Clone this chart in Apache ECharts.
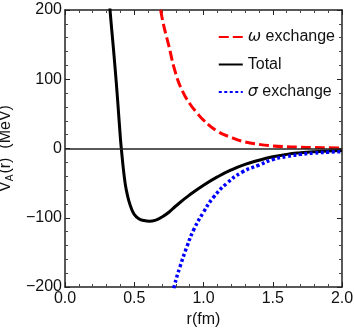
<!DOCTYPE html>
<html>
<head>
<meta charset="utf-8">
<script src="https://cdn.jsdelivr.net/npm/echarts@6/dist/echarts.min.js"></script>
<style>
  html, body { margin: 0; padding: 0; background: #fff; }
  #chart { width: 354px; height: 336px; }
</style>
</head>
<body>
<div id="chart"></div>
<script>
// values
var rOmega = [0.66, 0.70, 0.75, 0.80, 0.85, 0.90, 0.95, 1.00, 1.10, 1.20, 1.30, 1.40, 1.50, 1.60, 1.70, 1.80, 1.90, 2.00]
var vOmega = [240, 190, 148, 108, 82, 65, 52, 41, 25, 16, 9.5, 6, 3.8, 2.6, 1.9, 1.3, 1.0, 0.7]

var rTotal = [0.30, 0.325, 0.34, 0.36, 0.38, 0.40, 0.41, 0.42, 0.43, 0.44, 0.46, 0.48, 0.50, 0.53, 0.57, 0.61, 0.66, 0.70, 0.75, 0.80, 0.90, 1.00, 1.10, 1.20, 1.30, 1.40, 1.50, 1.60, 1.70, 1.80, 1.90, 2.00]
var vTotal = [262, 200, 166, 120, 70, 15, -7, -27, -44, -57, -75, -87, -95, -101, -104, -105, -103, -99, -92, -83, -67, -53, -41, -31, -23, -17, -12, -8.5, -6.2, -4.6, -3.6, -2.8]

var rSigma = [0.76, 0.79, 0.83, 0.88, 0.93, 1.00, 1.07, 1.17, 1.28, 1.40, 1.50, 1.60, 1.70, 1.80, 1.90, 2.00]
var vSigma = [-225, -198, -171, -142, -117, -92, -71, -50, -34, -24, -16, -11.5, -8.5, -6.5, -5.3, -4.5]

function pairs(xs, ys) {
  return xs.map(function (x, i) { return [x, ys[i]] })
}

var font = 'Liberation Sans, Arial, sans-serif'
var frame = { show: true, onZero: false, lineStyle: { color: '#222', width: 1.5 } }
var ticks = { inside: true, length: 5, lineStyle: { color: '#222' } }
var minor = { show: true, splitNumber: 5, length: 3, lineStyle: { color: '#444' } }

var chart = echarts.init(document.getElementById('chart'))
chart.setOption({
  animation: false,
  textStyle: { fontFamily: font },
  grid: { left: 65, right: 12, top: 10, bottom: 49, containLabel: false, outerBoundsMode: 'none' },
  legend: {
    right: 14,
    top: 24,
    orient: 'vertical',
    itemWidth: 24,
    itemHeight: 16,
    itemGap: 11.5,
    itemStyle: { opacity: 0 },
    textStyle: {
      fontSize: 16,
      color: '#111',
      fontFamily: font,
      rich: { g: { fontStyle: 'italic', fontSize: 16, fontFamily: 'DejaVu Sans' } }
    },
    data: ['omega', 'Total', 'sigma'],
    formatter: function (name) {
      if (name === 'omega') return '{g|ω} exchange'
      if (name === 'sigma') return '{g|σ} exchange'
      return name
    }
  },
  xAxis: [{
    type: 'value',
    min: 0,
    max: 2,
    interval: 0.5,
    name: 'r(fm)',
    nameLocation: 'middle',
    nameGap: 23,
    nameTextStyle: { fontSize: 16, color: '#111' },
    axisLine: frame,
    axisTick: ticks,
    minorTick: minor,
    splitLine: { show: false },
    axisLabel: {
      fontSize: 16,
      color: '#111',
      margin: 4,
      formatter: function (v) { return v.toFixed(1) }
    }
  }, {
    type: 'value',
    position: 'top',
    min: 0,
    max: 2,
    interval: 0.5,
    axisLine: frame,
    axisTick: ticks,
    minorTick: minor,
    splitLine: { show: false },
    axisLabel: { show: false }
  }],
  yAxis: [{
    type: 'value',
    min: -200,
    max: 200,
    interval: 100,
    name: '{m|V}{s|A}{m|(r)  (MeV)}',
    nameLocation: 'middle',
    nameGap: 40,
    nameRotate: 90,
    nameTextStyle: {
      color: '#111',
      rich: {
        m: { fontSize: 16, color: '#111', lineHeight: 18 },
        s: { fontSize: 10, color: '#111', verticalAlign: 'bottom', lineHeight: 18, padding: [0, 1, 0, 0] }
      }
    },
    axisLine: frame,
    axisTick: ticks,
    minorTick: minor,
    splitLine: { show: false },
    axisLabel: {
      fontSize: 16,
      color: '#111',
      margin: 3,
      formatter: function (v) { return String(v).replace('-', '\u2212') }
    }
  }, {
    type: 'value',
    position: 'right',
    min: -200,
    max: 200,
    interval: 100,
    axisLine: frame,
    axisTick: ticks,
    minorTick: minor,
    splitLine: { show: false },
    axisLabel: { show: false }
  }],
  series: [
    {
      name: 'omega',
      type: 'line',
      smooth: true,
      showSymbol: false,
      symbol: 'none',
      clip: true,
      color: '#ff0000',
      lineStyle: { color: '#ff0000', width: 3, type: [10, 4] },
      data: pairs(rOmega, vOmega)
    },
    {
      name: 'Total',
      type: 'line',
      smooth: true,
      showSymbol: false,
      symbol: 'none',
      clip: true,
      color: '#000',
      lineStyle: { color: '#000', width: 3 },
      data: pairs(rTotal, vTotal),
      markLine: {
        silent: true,
        symbol: 'none',
        label: { show: false },
        lineStyle: { color: '#222', width: 1.5, type: 'solid' },
        data: [{ yAxis: 0 }]
      }
    },
    {
      name: 'sigma',
      type: 'line',
      smooth: true,
      showSymbol: false,
      symbol: 'none',
      clip: true,
      color: '#0000ff',
      lineStyle: { color: '#0000ff', width: 3.5, type: [3, 2.5] },
      data: pairs(rSigma, vSigma)
    }
  ]
})
</script>
</body>
</html>
